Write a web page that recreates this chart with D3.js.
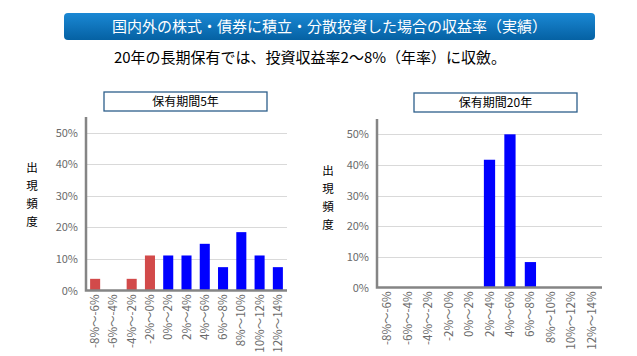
<!DOCTYPE html>
<html><head><meta charset="utf-8">
<script src="https://cdn.jsdelivr.net/npm/d3@7"></script>
<style>
body{margin:0;background:#fff;}
text{font-family:"Noto Sans CJK JP","Noto Sans",sans-serif;}
</style></head>
<body><svg id="c" width="637" height="356"></svg>
<script>
const mainTitle = "国内外の株式・債券に積立・分散投資した場合の収益率（実績）";
const subTitle = "20年の長期保有では、投資収益率2～8%（年率）に収斂。";
const categories = ["-8%～-6%","-6%～-4%","-4%～-2%","-2%～0%","0%～2%","2%～4%","4%～6%","6%～8%","8%～10%","10%～12%","12%～14%"];
const values5y  = [3.7, 0, 3.7, 11.1, 11.1, 11.1, 14.8, 7.4, 18.5, 11.1, 7.4];
const values20y = [0, 0, 0, 0, 0, 41.7, 50.0, 8.3, 0, 0, 0];
const yTicks = [0, 10, 20, 30, 40, 50];
const yLabel = "出現頻度";
const chartTitles = ["保有期間5年", "保有期間20年"];
const negColor = "#d24a4a", posColor = "#0000ff";

const svg = d3.select("#c");
const defs = svg.append("defs");
const g = defs.append("linearGradient").attr("id","bn").attr("x1",0).attr("y1",0).attr("x2",0).attr("y2",1);
g.append("stop").attr("offset","0%").attr("stop-color","#1a88d4");
g.append("stop").attr("offset","100%").attr("stop-color","#0561a3");

svg.append("rect").attr("x",64).attr("y",13).attr("width",531).attr("height",27).attr("rx",4)
  .attr("fill","url(#bn)");
svg.append("text").attr("x",329.5).attr("y",32).attr("text-anchor","middle")
  .attr("font-size",15).attr("fill","#fff").text(mainTitle);
svg.append("text").attr("x",310).attr("y",63).attr("text-anchor","middle")
  .attr("font-size",15).attr("fill","#000").text(subTitle);

function drawChart(cfg){
  const x = d3.scaleBand().domain(categories).range([cfg.x0, cfg.x1]).paddingInner(0.45).paddingOuter(0.225);
  const y = d3.scaleLinear().domain([0,55]).range([cfg.yb, cfg.yt]);
  const gg = svg.append("g");
  gg.append("rect").attr("x",cfg.bx).attr("y",cfg.by).attr("width",163).attr("height",19)
    .attr("fill","#fff").attr("stroke","#2d5f8b").attr("stroke-width",1.3);
  gg.append("text").attr("x",cfg.bx+81.5).attr("y",cfg.by+14).attr("text-anchor","middle")
    .attr("font-size",12).attr("fill","#000").text(cfg.title);
  Array.from(yLabel).forEach((ch,i)=>{
    gg.append("text").attr("x",cfg.lx).attr("y",cfg.ly+i*18).attr("text-anchor","middle")
      .attr("font-size",11.5).attr("fill","#000").text(ch);
  });
  gg.append("g").selectAll("line").data(yTicks.filter(d=>d>0)).join("line")
    .attr("x1",cfg.x0).attr("x2",cfg.x1).attr("y1",d=>Math.round(y(d))+0.5).attr("y2",d=>Math.round(y(d))+0.5)
    .attr("stroke","#d9d9d9").attr("stroke-width",1.2);
  const ya = d3.axisLeft(y).tickValues(yTicks).tickFormat(d=>d+"%").tickSize(0).tickPadding(8);
  const yg = gg.append("g").attr("transform",`translate(${cfg.x0},0)`).call(ya);
  yg.select(".domain").remove();
  yg.selectAll("text").attr("font-size",11).attr("fill","#6a6a6a").attr("font-family","'Noto Sans CJK JP',sans-serif");
  gg.append("g").selectAll("rect").data(cfg.values).join("rect")
    .attr("x",(d,i)=>x(categories[i])).attr("width",x.bandwidth())
    .attr("y",d=>y(d)).attr("height",d=>y(0)-y(d))
    .attr("fill",(d,i)=>i<4?negColor:posColor);
  const xa = d3.axisBottom(x).tickSize(0).tickPadding(0);
  const xg = gg.append("g").attr("transform",`translate(0,${cfg.yb})`).call(xa);
  xg.select(".domain").remove();
  xg.selectAll("text").attr("font-size",11.5).attr("fill","#6a6a6a")
    .attr("font-family","'Noto Sans CJK JP',sans-serif")
    .attr("text-anchor","end").attr("dy",null)
    .attr("transform","translate(4,4) rotate(-90)").attr("y",0).attr("x",0);
  gg.append("path").attr("d",`M${cfg.x0},${cfg.yt}V${cfg.yb}H${cfg.x1}`)
    .attr("fill","none").attr("stroke","#858585").attr("stroke-width",2.5);
}

drawChart({x0:86, x1:287, yt:117, yb:290.5, bx:104, by:92, lx:32, ly:172, values:values5y, title:chartTitles[0]});
drawChart({x0:377, x1:602, yt:119, yb:287.5, bx:414, by:93, lx:328, ly:175, values:values20y, title:chartTitles[1]});
</script></body></html>
